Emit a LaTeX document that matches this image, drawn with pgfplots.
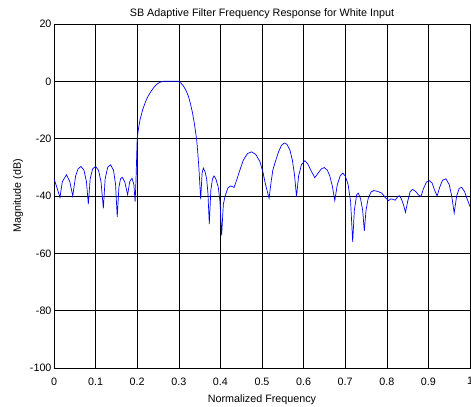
\documentclass[border=0pt]{standalone}
\usepackage{fontspec}
\setmainfont{Liberation Sans}
\usepackage{pgfplots}
\pgfplotsset{compat=1.18}

\pgfplotstableread{
f mag
0.000 -34
0.007 -37
0.0144 -40.5
0.020 -35
0.030 -32.6
0.038 -35
0.045 -40
0.052 -33
0.058 -30.5
0.065 -29.7
0.072 -31
0.078 -35
0.0825 -42.8
0.087 -34
0.093 -30.5
0.100 -29.7
0.107 -31
0.113 -35
0.1186 -44.3
0.123 -34
0.129 -30
0.136 -29.1
0.143 -31
0.148 -36
0.152 -47.3
0.156 -37
0.160 -34
0.164 -33.5
0.170 -35
0.177 -39.6
0.182 -35
0.1875 -33.8
0.192 -36
0.195 -42
0.197 -35
0.200 -20.1
0.203 -16.5
0.207 -13.3
0.213 -10
0.219 -7.5
0.225 -5.5
0.231 -4.0
0.239 -2.3
0.247 -1.0
0.255 -0.3
0.263 0
0.280 0
0.299 0
0.305 -0.6
0.311 -1.6
0.317 -3.1
0.323 -5.1
0.328 -7.8
0.333 -11
0.338 -15.3
0.343 -20.4
0.346 -25.5
0.3486 -30.9
0.3526 -41.2
0.356 -32
0.359 -30.3
0.363 -31.5
0.367 -34
0.370 -39
0.3733 -49.8
0.377 -38
0.381 -34
0.3846 -33
0.389 -34
0.395 -37
0.399 -42
0.403 -53.7
0.407 -43
0.411 -40.2
0.418 -37.2
0.4247 -36.5
0.433 -37
0.440 -34
0.447 -30.9
0.455 -27.5
0.465 -25.2
0.475 -24.6
0.485 -25.5
0.495 -28
0.502 -31.5
0.507 -35
0.512 -38
0.517 -40.8
0.522 -35
0.526 -31
0.531 -28.5
0.540 -24.5
0.547 -22.3
0.5537 -21.5
0.560 -22
0.567 -23.9
0.573 -27.5
0.578 -32.5
0.583 -40.2
0.588 -33
0.595 -29
0.603 -27.7
0.610 -28.8
0.618 -31.2
0.627 -33.6
0.635 -32
0.643 -30.5
0.650 -30.1
0.657 -31
0.663 -33
0.669 -36.5
0.675 -41.6
0.681 -36
0.688 -33
0.694 -32
0.700 -33
0.707 -36
0.713 -42
0.718 -56
0.722 -45
0.7276 -39.5
0.7315 -39
0.737 -41
0.742 -45
0.746 -52.2
0.750 -45
0.755 -41
0.762 -38.6
0.769 -38.1
0.778 -38.4
0.788 -39
0.796 -40.5
0.804 -41.6
0.810 -41
0.816 -41.2
0.820 -41.5
0.825 -40.5
0.830 -39.9
0.835 -41
0.840 -43
0.845 -45.7
0.850 -42
0.856 -38.5
0.862 -37.7
0.870 -38.5
0.876 -39.6
0.882 -40.2
0.888 -37.5
0.895 -35.2
0.902 -34.6
0.909 -35.5
0.915 -38
0.921 -40
0.927 -37
0.934 -34.5
0.942 -34
0.950 -36
0.956 -40
0.962 -45.9
0.968 -40
0.974 -37.3
0.980 -37
0.987 -38.5
0.993 -41
1.000 -43.7
}\response

\begin{document}
\begin{tikzpicture}
\begin{axis}[
    at={(0,0)}, anchor=south west,
    width=416bp, height=344bp,
    scale only axis,
    xmin=0, xmax=1,
    ymin=-100, ymax=20,
    xtick={0,0.1,...,1.0},
    ytick={-100,-80,...,20},
    xticklabels={0,0.1,0.2,0.3,0.4,0.5,0.6,0.7,0.8,0.9,1},
    /pgf/number format/assume math mode=true,
    font=\fontsize{10.8}{12}\selectfont,
    tick label style={font=\fontsize{10.8}{12}\selectfont},
    title={SB Adaptive Filter Frequency Response for White Input},
    title style={yshift=-4bp},
    xlabel={Normalized Frequency},
    ylabel={Magnitude (dB)},
    xlabel style={yshift=-3bp},
    ylabel style={yshift=0bp},
    grid=major,
    major grid style={black, line width=0.6pt},
    axis line style={black, line width=0.9pt},
    tick style={black, line width=0.6pt},
    major tick length=4bp,
    tick align=inside,
    xticklabel style={yshift=-6bp},
    yticklabel style={xshift=1bp},
]
\addplot[blue, line width=0.7pt, no marks] table[x=f, y=mag] {\response};
\end{axis}
\pgfresetboundingbox
\useasboundingbox (-54bp,-39bp) rectangle (417bp,368bp);
\end{tikzpicture}
\end{document}
